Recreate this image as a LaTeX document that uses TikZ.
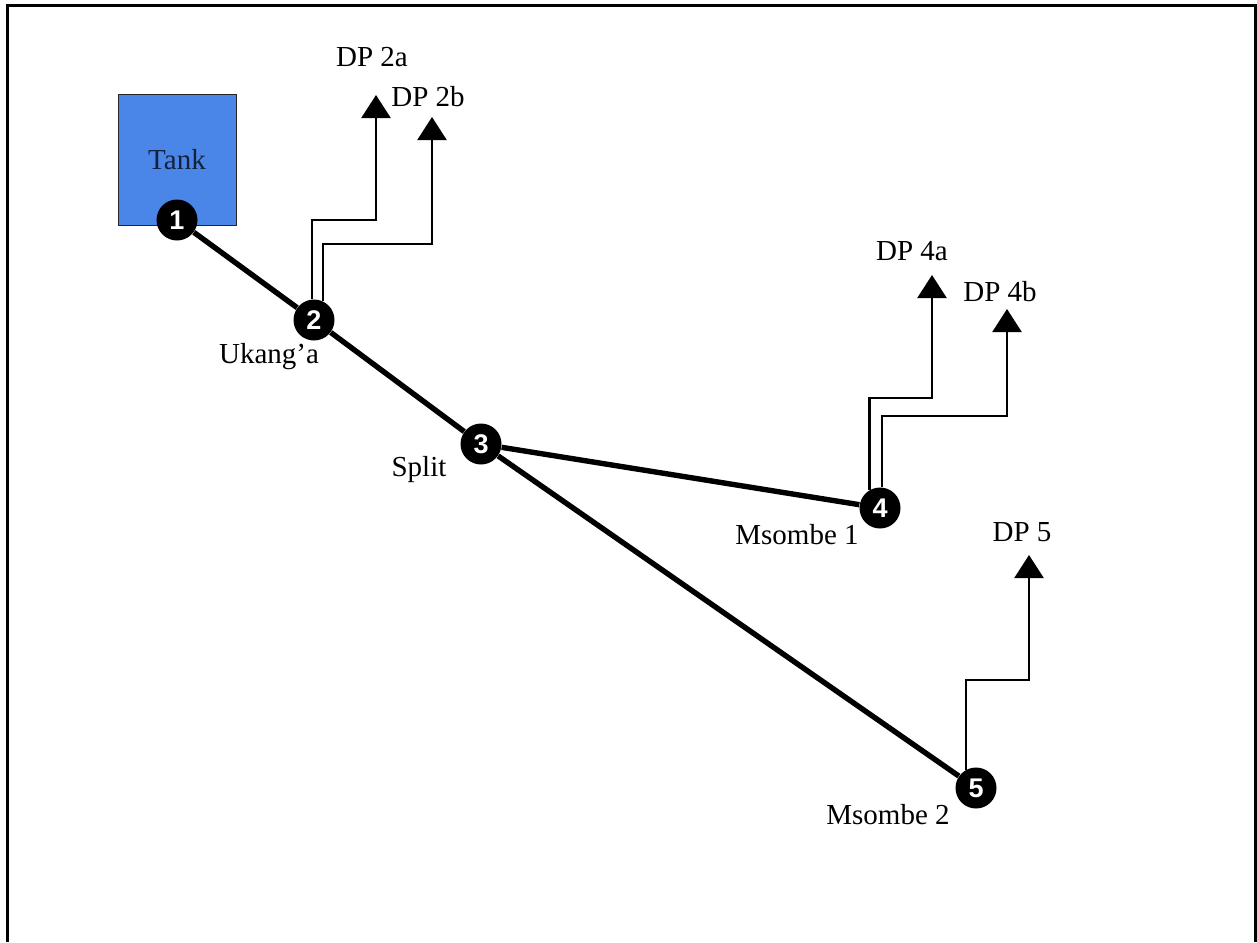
\documentclass[tikz,border=0pt]{standalone}
\usepackage{fontspec}
\setmainfont{Liberation Serif}
\newfontfamily\numfont{Liberation Sans}
\usetikzlibrary{arrows.meta}
\definecolor{TankBlue}{HTML}{4A86E8}
\definecolor{TankText}{HTML}{14213D}
\tikzset{junction/.style={circle,fill=black,minimum size=20.5pt,inner sep=0pt,text=white,font=\numfont\bfseries\fontsize{13.5}{13.5}\selectfont},pipe/.style={line width=2.7pt,black},branch/.style={line width=1.2pt,black,-{Triangle[width=14.5pt,length=11.5pt]}},tag/.style={font=\fontsize{14.5}{16}\selectfont,inner sep=0pt},frame/.style={line width=1.5pt,black}}
\begin{document}
\begin{tikzpicture}[x=0.5pt,y=-0.5pt]
        \useasboundingbox (0,0) rectangle (1257,942);
        \draw[frame](7,942)|-(1255.5,5)--(1255.5,942);
        \node[draw=black!85,fill=TankBlue,minimum width=59pt,minimum height=65.5pt,inner sep=0pt,text=TankText,font=\fontsize{14.5}{16}\selectfont](tank)at(177,159.5){Tank};
        \node[junction](j1)at(177,220){1};
        \node[junction](j2)at(314,320){2};
        \node[junction](j3)at(481,444){3};
        \node[junction](j4)at(880,508){4};
        \node[junction](j5)at(976,788){5};
        \draw[pipe](j1)--(j2);
        \draw[pipe](j2)--(j3);
        \draw[pipe](j3)--(j4);
        \draw[pipe](j3)--(j5);
        % delivery points
        \coordinate(dp2a)at(376,95);
        \coordinate(dp2b)at(432,117);
        \coordinate(dp4a)at(932,275);
        \coordinate(dp4b)at(1007,309);
        \coordinate(dp5)at(1029,555);
        \draw[branch](j2.96)|-(dp2a|-0,220)--(dp2a);
        \draw[branch](j2.64)|-(dp2b|-0,244)--(dp2b);
        \draw[branch](j4.120)|-(dp4a|-0,398)--(dp4a);
        \draw[branch](j4.84)|-(dp4b|-0,416)--(dp4b);
        \draw[branch](j5.118)|-(dp5|-0,680)--(dp5);
        \node[tag](ldp2a)at(372,57){DP 2a};
        \node[tag](ldp2b)at(428,97){DP 2b};
        \node[tag](ldp4a)at(912,251){DP 4a};
        \node[tag](ldp4b)at(1000,292){DP 4b};
        \node[tag](ldp5)at(1022,532){DP 5};
        \node[tag](ukanga)at(269,357){Ukang’a};
        \node[tag](split)at(419,470){Split};
        \node[tag](msombe1)at(797,535){Msombe 1};
        \node[tag](msombe2)at(888,815){Msombe 2};
      \end{tikzpicture}
\end{document}
